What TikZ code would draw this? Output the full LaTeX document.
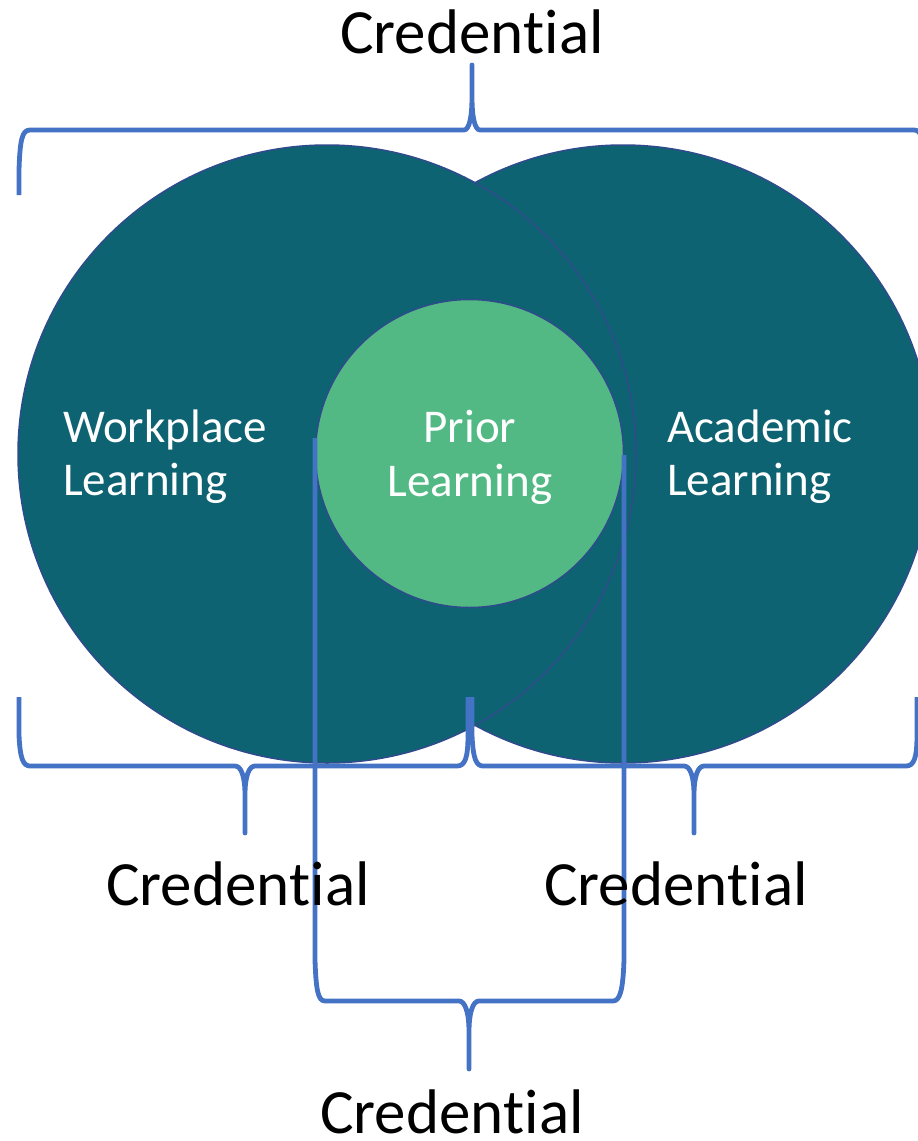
\documentclass[tikz,border=0pt]{standalone}
\usepackage{fontspec}
\setmainfont[Ligatures={NoCommon,NoRare}]{Carlito}
\usepackage{tikz}
\definecolor{deepteal}{HTML}{0E6372}
\definecolor{mintgreen}{HTML}{52B985}
\definecolor{rimblue}{HTML}{2F4B8C}
\definecolor{braceblue}{HTML}{4472C4}

\begin{document}
\begin{tikzpicture}[x=1pt,y=-1pt,
    area/.style={circle,draw=rimblue,line width=1.5pt,fill=deepteal,minimum size=618pt,inner sep=0pt},
    core/.style={circle,draw=rimblue,line width=1.5pt,fill=mintgreen,minimum size=308pt,inner sep=0pt},
    inlabel/.style={text=white,font=\fontsize{47}{53}\selectfont,inner sep=0pt},
    credlabel/.style={font=\fontsize{63}{75}\selectfont,inner sep=0pt,anchor=base},
    credbrace/.style={draw=braceblue,line width=4.8pt,line join=round}]
  \useasboundingbox (0,0) rectangle (918,1141);
  % the three learning areas
  \node[area] (academic) at (623,454) {};
  \node[area] (workplace) at (327,454) {};
  \node[core] (prior) at (469.5,453.5) {};
  \node[inlabel,anchor=base west] (worktop) at (63,442) {Workplace};
  \node[inlabel,anchor=base west] (workbot) at (63,495) {Learning};
  \node[inlabel,anchor=base] (priortop) at (470,442) {Prior};
  \node[inlabel,anchor=base] (priorbot) at (470,496) {Learning};
  \node[inlabel,anchor=base west] (acadtop) at (667,442) {Academic};
  \node[inlabel,anchor=base west] (acadbot) at (667,495) {Learning};
  % braces
  \draw[credbrace] (19,195) -- (19,170) .. controls (20,140) and (22,130) .. (30,130)
    -- (464,130) .. controls (469,130) and (472,118) .. (472,97) -- (472,65)
    -- (472,97) .. controls (472,118) and (475,130) .. (480,130)
    -- (914,130) .. controls (922,130) and (924,140) .. (925,170) -- (925,195);
  \draw[credbrace] (19,697) -- (19,735) .. controls (20,758) and (23,766) .. (30,766)
    -- (235,766) .. controls (241,766) and (245,776) .. (245,795) -- (245,833)
    -- (245,795) .. controls (245,776) and (249,766) .. (255,766)
    -- (457,766) .. controls (465,766) and (468,758) .. (468,735) -- (468,697);
  \draw[credbrace] (472,697) -- (472,735) .. controls (473,758) and (476,766) .. (483,766)
    -- (684,766) .. controls (690,766) and (694,776) .. (694,795) -- (694,833)
    -- (694,795) .. controls (694,776) and (698,766) .. (704,766)
    -- (906,766) .. controls (914,766) and (917,758) .. (917,735) -- (917,697);
  \draw[credbrace] (315,438) -- (315,960) .. controls (316,990) and (318,1001) .. (325,1001)
    -- (459,1001) .. controls (465,1001) and (469,1012) .. (469,1032) -- (469,1069)
    -- (469,1032) .. controls (469,1012) and (473,1001) .. (479,1001)
    -- (613,1001) .. controls (620,1001) and (623,990) .. (624,960) -- (624,455);
  % credential labels
  \node[credlabel] (credtop) at (472,53) {Creden\kern0pt tial};
  \node[credlabel] (credleft) at (238,905) {Creden\kern0pt tial};
  \node[credlabel] (credright) at (676,905) {Creden\kern0pt tial};
  \node[credlabel] (credbot) at (452,1133) {Creden\kern0pt tial};
\end{tikzpicture}
\end{document}
